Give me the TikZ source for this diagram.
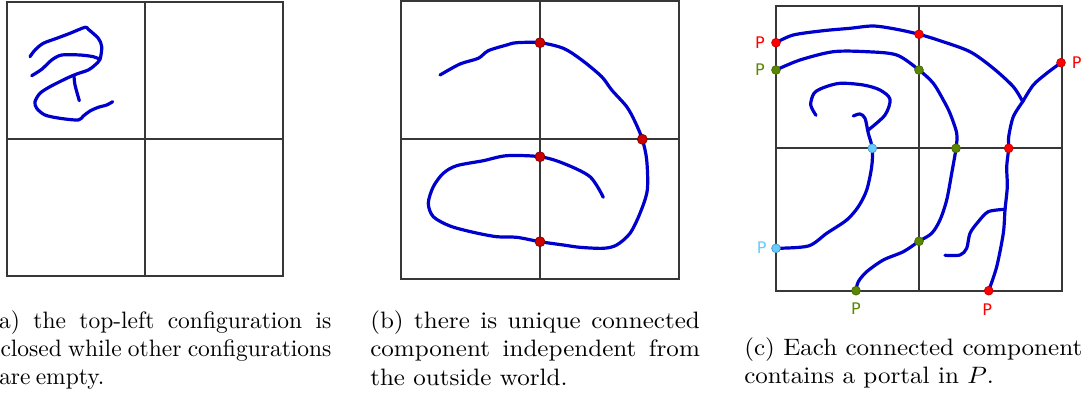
\documentclass[tikz,border=0pt]{standalone}
\usepackage{fontspec}
\newfontfamily\pfont{DejaVu Sans}
\definecolor{curvec}{RGB}{0,0,204}
\definecolor{pred}{RGB}{255,0,0}
\definecolor{dred}{RGB}{204,0,0}
\definecolor{pgreen}{RGB}{90,135,0}
\definecolor{pblue}{RGB}{102,204,255}
\definecolor{gridc}{RGB}{55,55,55}
\newcommand{\capbox}[2]{\scalebox{1.88}[1.78]{\parbox[t]{#1}{\fontsize{10}{12}\selectfont #2}}}
\newcommand{\capline}[2]{\scalebox{1.76}[1.78]{\fontsize{10}{12}\selectfont\hbox to #1{#2}}}
\tikzset{
  gridline/.style={draw=gridc, line width=1.5pt},
  curveline/.style={draw=curvec, line width=2.4pt, line cap=round, line join=round},
  dot/.style={circle, inner sep=0pt, minimum size=#1, line width=0.5pt},
  portal/.style={dot=6.6pt, fill=#1, draw=#1!75!black},
  plabel/.style={font=\pfont\fontsize{12}{14}\selectfont, text=#1, inner sep=0pt},
  caption/.style={inner sep=0pt, anchor=base west}
}
\begin{document}
\begin{tikzpicture}[x=0.75pt,y=-0.75pt]
\useasboundingbox (0,0) rectangle (1090,396);
% ---------- panel (a)
\draw[gridline] (7,1.7) rectangle (283,276);
\draw[gridline] (145,1.7) -- (145,276);
\draw[gridline] (7,139) -- (283,139);
\draw[curveline] plot[smooth,tension=0.5] coordinates {(30,56.7) (35,50) (43.3,43.3) (56.7,38.3) (70,33.3) (85,27.3) (88.3,29.3) (98.3,38.3) (101.7,46.7) (100,59.3) (95,65) (88.3,70) (76.7,74) (66.7,78.3) (50,86.7) (40,93.3) (35,101.7) (36.7,108.3) (45,115) (60,118.3) (78.3,120) (83.3,116) (90,111) (98.3,107.3) (106.7,105) (112.7,101.7)};
\draw[curveline] plot[smooth,tension=0.5] coordinates {(31.7,75.7) (41.7,69.3) (51.7,60) (61.7,55) (80,55) (93.3,56.7) (100,59.3)};
\draw[curveline] plot[smooth,tension=0.5] coordinates {(74,76) (75,85) (79.3,100.7)};
\node[caption, anchor=base east] (capa1) at (331.7,328) {\capline{145.5pt}{(a) the top-left configuration is}};
\node[caption, anchor=base east] (capa2) at (331.7,356.3) {\capline{151pt}{enclosed while other configurations}};
\node[caption] (capa3) at (-1,384.6) {\capline{40pt}{are empty.\hfil}};
% ---------- panel (b)
\draw[gridline] (401,0.8) rectangle (679,278.7);
\draw[gridline] (540,0.8) -- (540,278.7);
\draw[gridline] (401,139.3) -- (679,139.3);
\draw[curveline] plot[smooth,tension=0.5] coordinates {(440,75) (460,64) (478.3,58.3) (488.3,50.7) (506.7,45) (516.7,42.7) (540,42.7) (563.3,48.3) (581.7,60) (601.7,76.7) (611.7,90) (626.7,106.7) (635,121.7) (642.3,139.3) (646.7,160) (647.3,190) (640,213.3) (630,233.3) (616.7,245) (603.3,248.3) (580,247.3) (563.3,245) (540,241.7) (516.7,237.3) (496.7,236.7) (473.3,232.3) (450,226) (433.3,216.7) (428.3,203.3) (433.3,186.7) (443.3,173.3) (456.7,165.7) (483.3,160.7) (506.7,155.7) (540,156.7) (563.3,163.3) (590,176.7) (603.3,197.3)};
\node[dot=7.5pt, fill=dred, draw=dred!60!black] (b1) at (540,42.7) {};
\node[dot=7.5pt, fill=dred, draw=dred!60!black] (b2) at (642.3,139.3) {};
\node[dot=7.5pt, fill=dred, draw=dred!60!black] (b3) at (540,156.7) {};
\node[dot=7.5pt, fill=dred, draw=dred!60!black] (b4) at (540,241.7) {};
\node[caption] (capb) at (370,328.3) {\capbox{131.5pt}{(b) there is unique connected\linebreak component independent from\linebreak the outside world.}};
% ---------- panel (c)
\draw[gridline] (775.7,5.7) rectangle (1061.7,290.7);
\draw[gridline] (919,5.7) -- (919,290.7);
\draw[gridline] (775.7,148.3) -- (1061.7,148.3);
% red component
\draw[curveline] plot[smooth,tension=0.5] coordinates {(776,42.7) (793.3,35) (823.3,30.7) (850,28.3) (873.3,26) (896.7,29.3) (919,34.3) (940,40.7) (970,51.7) (993.3,68.3) (1013.3,86.7) (1022.7,101.7)};
\draw[curveline] plot[smooth,tension=0.5] coordinates {(1022.7,101.7) (1033.3,85) (1046.7,73.3) (1061,62.7)};
\draw[curveline] plot[smooth,tension=0.5] coordinates {(1022.7,101.7) (1013.3,116.7) (1008.7,136.7) (1008.7,148.3) (1006.7,166.7) (1007.3,186.7) (1005,210) (1003.3,233.3) (996.7,266.7) (988.7,290.7)};
\draw[curveline] plot[smooth,tension=0.5] coordinates {(1005,209.3) (988.3,211.7) (978.3,221.7) (970,233.3) (966.7,248.3) (960,255) (945,255.3)};
% green component
\draw[curveline] plot[smooth,tension=0.5] coordinates {(776,70) (800,60) (833.3,51.7) (866.7,51.7) (896.7,55) (919,70) (933.3,83.3) (943.3,100) (950,113.3) (956.7,133.3) (956,148.3) (951.7,173.3) (946.7,200) (940,220) (931.7,233.3) (919,241.3) (903.3,251.7) (883.3,260) (866.7,271.7) (858.3,281.7) (856,290.7)};
% blue component
\draw[curveline] plot[smooth,tension=0.5] coordinates {(776,248.3) (808.3,246) (826.7,233.3) (846.7,220) (858.3,206.7) (866.7,190) (871.7,166.7) (872.3,148.3) (868.3,133.3) (865,118.3) (860,114) (853.3,116)};
\draw[curveline] plot[smooth,tension=0.5] coordinates {(868.3,130) (885,115) (890,99.3) (880,90) (863.3,85) (840,83.3) (823.3,87.7) (814,93.3) (810.7,105) (816,115.3)};
% portals / crossings
\node[portal=pred] (r1) at (776,42.7) {};
\node[portal=pgreen] (g1) at (776,70) {};
\node[portal=pblue] (u1) at (776,248.3) {};
\node[portal=pgreen] (g2) at (856,290.7) {};
\node[portal=pred] (r2) at (988.7,290.7) {};
\node[portal=pred] (r3) at (1061,62.7) {};
\node[portal=pred] (r4) at (919,34.3) {};
\node[portal=pgreen] (g3) at (919,70) {};
\node[portal=pblue] (u2) at (872.3,148.3) {};
\node[portal=pgreen] (g4) at (956,148.3) {};
\node[portal=pred] (r5) at (1008.7,148.3) {};
\node[portal=pgreen] (g5) at (919,241.3) {};
\node[plabel=pred] (lr1) at (760,42.7) {P};
\node[plabel=pgreen] (lg1) at (760,70) {P};
\node[plabel=pblue] (lu1) at (761.7,247.3) {P};
\node[plabel=pgreen] (lg2) at (856,308.3) {P};
\node[plabel=pred] (lr2) at (987.3,310) {P};
\node[plabel=pred] (lr3) at (1076.7,62.7) {P};
\node[caption] (capc) at (744,355) {\capbox{180pt}{\raggedright (c) Each connected component\\ contains a portal in $P$.}};
\end{tikzpicture}
\end{document}
